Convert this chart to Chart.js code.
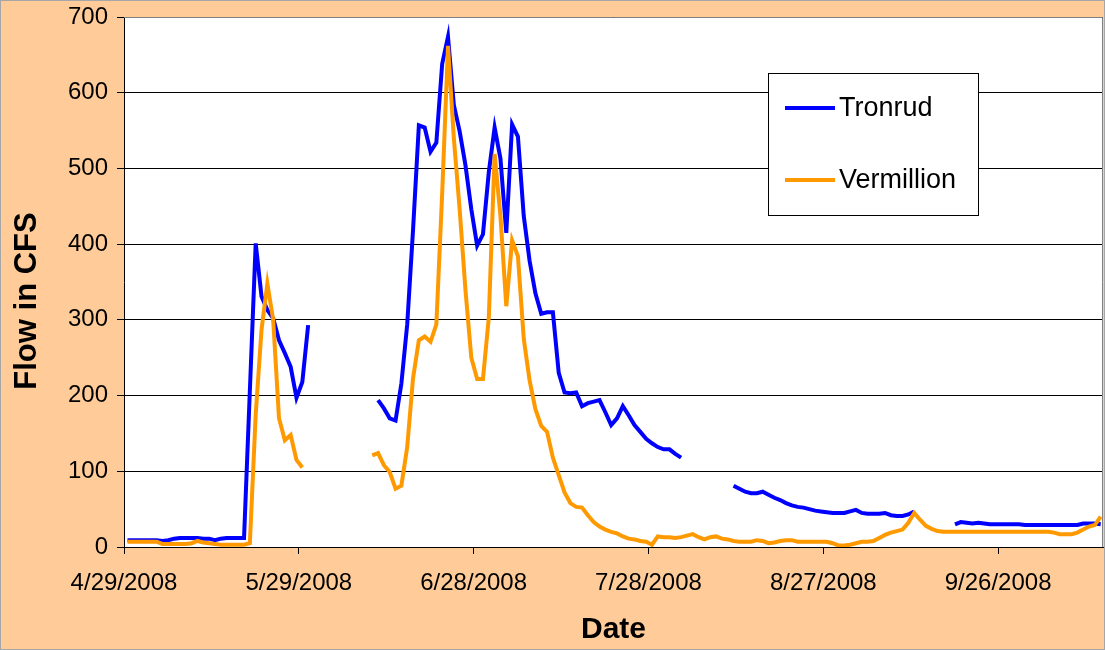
<!DOCTYPE html>
<html>
<head>
<meta charset="utf-8">
<script src="https://cdn.jsdelivr.net/npm/chart.js@4.4.1/dist/chart.umd.min.js"></script>
<style>
    html, body { margin: 0; padding: 0; background: #FFCC99; }
    #wrap { width: 1105px; height: 650px; }
</style>
</head>
<body>
<div id="wrap"><canvas id="flowChart" width="1105" height="650"></canvas></div>
<script>
// days are counted from 4/29/2008
var lastDay = 168;
var tickDays = [0, 30, 60, 90, 120, 150];
var flowTicks = [0, 100, 200, 300, 400, 500, 600, 700];
var readingTime = 0.6; // readings fall a bit after midnight of each day

var seriesNames = ["Tronrud", "Vermillion"];
var xTitle = "Date";
var yTitle = "Flow in CFS";

// Tronrud: first day of each unbroken run, then the daily flows of each run
var tronrudStart = [0, 43, 104, 142];
var tronrudRun1 = [9, 9, 9, 9, 9, 9, 8, 9, 11, 12, 12, 12, 12, 11, 11, 9, 11, 12, 12, 12,
    12, 207, 401, 331, 313, 302, 273, 256, 238, 197, 218, 293];
var tronrudRun2 = [194, 183, 170, 167, 216, 294, 419, 557, 554, 522, 534, 638, 674,
    584, 549, 504, 446, 398, 413, 495, 554, 513, 415, 558, 542, 437,
    378, 335, 308, 310, 310, 230, 204, 203, 204, 186, 190, 192, 194,
    178, 161, 170, 186, 174, 161, 152, 143, 137, 132, 129, 129, 123, 118];
var tronrudRun3 = [81, 77, 73, 71, 71, 73, 69, 65, 62, 58, 55, 53, 52, 50, 48, 47,
    46, 45, 45, 45, 47, 49, 45, 44, 44, 44, 45, 42, 41, 41, 43, 47];
var tronrudRun4 = [30, 33, 32, 31, 32, 31, 30, 30, 30, 30, 30, 30, 29, 29, 29, 29,
    29, 29, 29, 29, 29, 29, 31, 31, 31, 30];

// Vermillion
var vermillionStart = [0, 42];
var vermillionRun1 = [7, 7, 7, 7, 7, 7, 4, 4, 4, 4, 4, 5, 8, 6, 5, 4, 3, 3, 3, 3,
    3, 5, 175, 287, 348, 300, 170, 141, 148, 115, 105];
var vermillionRun2 = [121, 124, 108, 99, 77, 81, 132, 223, 273, 278, 271, 294,
    467, 662, 540, 446, 339, 250, 222, 222, 303, 519, 437, 318, 405, 384,
    275, 220, 182, 160, 152, 118, 95, 72, 58, 53, 52, 42, 33, 27,
    23, 20, 18, 14, 11, 10, 8, 7, 3, 14, 13, 13, 12, 13,
    15, 17, 13, 10, 13, 14, 11, 10, 8, 7, 7, 7, 9, 8,
    5, 6, 8, 9, 9, 7, 7, 7, 7, 7, 7, 5, 2, 2,
    3, 5, 7, 7, 8, 12, 16, 19, 21, 23, 32, 45, 36, 28, 24, 21,
    20, 20, 20, 20, 20, 20, 20, 20, 20, 20, 20, 20, 20, 20, 20, 20, 20, 20, 20,
    19, 17, 17, 17, 19, 23, 27, 29, 40];

var FONT = "'Liberation Sans', Arial, sans-serif";

function dayLabel(day) {
    var d = new Date(2008, 3, 29 + day);
    return (d.getMonth() + 1) + "/" + d.getDate() + "/" + d.getFullYear();
}

// turn the runs into x/y points, with a null between runs so the line breaks
function buildPoints(starts, runs) {
    var pts = [];
    starts.forEach(function (start, r) {
        if (r > 0) pts.push({ x: start - 1, y: null });
        runs[r].forEach(function (v, i) {
            pts.push({ x: start + i + readingTime, y: v });
        });
    });
    return pts;
}

var chartBackground = {
    id: "chartBackground",
    beforeDraw: function (chart) {
        var ctx = chart.ctx, a = chart.chartArea;
        ctx.save();
        ctx.fillStyle = "#FFCC99";
        ctx.fillRect(0, 0, chart.width, chart.height);
        ctx.strokeStyle = "#A6A6A6";
        ctx.lineWidth = 1;
        ctx.strokeRect(0.5, 0.5, chart.width - 1, chart.height - 1);
        ctx.fillStyle = "#FFFFFF";
        ctx.fillRect(a.left, a.top, a.right - a.left, a.bottom - a.top);
        ctx.restore();
    },
    beforeDatasetsDraw: function (chart) {
        var ctx = chart.ctx, a = chart.chartArea;
        ctx.save();
        ctx.strokeStyle = "#808080";
        ctx.lineWidth = 1;
        ctx.beginPath();
        ctx.moveTo(a.left, a.top + 0.5);
        ctx.lineTo(a.right - 0.5, a.top + 0.5);
        ctx.lineTo(a.right - 0.5, a.bottom);
        ctx.stroke();
        ctx.restore();
    },
    afterDraw: function (chart) {
        // y title sits a little below the middle of the plot, as in the original
        var ctx = chart.ctx;
        ctx.save();
        ctx.translate(27, 301);
        ctx.rotate(-Math.PI / 2);
        ctx.font = "bold 31px " + FONT;
        ctx.fillStyle = "#000000";
        ctx.textAlign = "center";
        ctx.textBaseline = "middle";
        ctx.fillText(yTitle, 0, 0);
        ctx.restore();
    }
};

// legend box sitting inside the plot, like the spreadsheet one
var boxLegend = {
    id: "boxLegend",
    afterDraw: function (chart) {
        var ctx = chart.ctx;
        var left = 768, top = 73, w = 210, h = 142;
        ctx.save();
        ctx.fillStyle = "#FFFFFF";
        ctx.fillRect(left, top, w, h);
        ctx.strokeStyle = "#000000";
        ctx.lineWidth = 1;
        ctx.strokeRect(left + 0.5, top + 0.5, w, h);
        ctx.font = "27px " + FONT;
        ctx.textBaseline = "middle";
        ctx.fillStyle = "#000000";
        chart.data.datasets.forEach(function (ds, i) {
            var y = top + 35 + i * 72;
            ctx.strokeStyle = ds.borderColor;
            ctx.lineWidth = 4;
            ctx.beginPath();
            ctx.moveTo(left + 17, y);
            ctx.lineTo(left + 67, y);
            ctx.stroke();
            ctx.fillText(ds.label, left + 71, y + 1);
        });
        ctx.restore();
    }
};

var ctx = document.getElementById("flowChart").getContext("2d");

new Chart(ctx, {
    type: "line",
    data: {
        datasets: [
            {
                label: seriesNames[0],
                data: buildPoints(tronrudStart, [tronrudRun1, tronrudRun2, tronrudRun3, tronrudRun4]),
                borderColor: "#0000FF",
                borderWidth: 4,
                pointRadius: 0,
                tension: 0,
                spanGaps: false,
                order: 1
            },
            {
                label: seriesNames[1],
                data: buildPoints(vermillionStart, [vermillionRun1, vermillionRun2]),
                borderColor: "#FF9900",
                borderWidth: 4,
                pointRadius: 0,
                tension: 0,
                spanGaps: false,
                order: 0
            }
        ]
    },
    options: {
        responsive: false,
        animation: false,
        layout: { padding: { top: 17, right: 2, left: 0, bottom: 0 } },
        plugins: {
            legend: { display: false },
            tooltip: { enabled: false }
        },
        scales: {
            x: {
                type: "linear",
                min: 0,
                max: lastDay,
                afterBuildTicks: function (scale) {
                    scale.ticks = tickDays.map(function (v) { return { value: v }; });
                },
                afterFit: function (scale) { scale.height = 103; },
                ticks: {
                    callback: function (v) { return dayLabel(v); },
                    font: { family: FONT, size: 24 },
                    color: "#000000",
                    padding: 15,
                    maxRotation: 0,
                    autoSkip: false
                },
                grid: { drawOnChartArea: false, drawTicks: true, tickLength: 7, color: "#000000" },
                border: { color: "#000000" },
                title: {
                    display: true,
                    text: xTitle,
                    font: { family: FONT, size: 30, weight: "bold" },
                    color: "#000000",
                    padding: { top: 0, bottom: 2 }
                }
            },
            y: {
                min: 0,
                max: 700,
                afterBuildTicks: function (scale) {
                    scale.ticks = flowTicks.map(function (v) { return { value: v }; });
                },
                afterFit: function (scale) {
                    scale.width = 124;
                    scale.paddingTop = 0;
                    scale.paddingBottom = 0;
                },
                ticks: {
                    font: { family: FONT, size: 24 },
                    color: "#000000",
                    padding: 9
                },
                grid: { color: "#000000", tickLength: 7 },
                border: { color: "#000000" }
            }
        }
    },
    plugins: [chartBackground, boxLegend]
});
</script>
</body>
</html>
